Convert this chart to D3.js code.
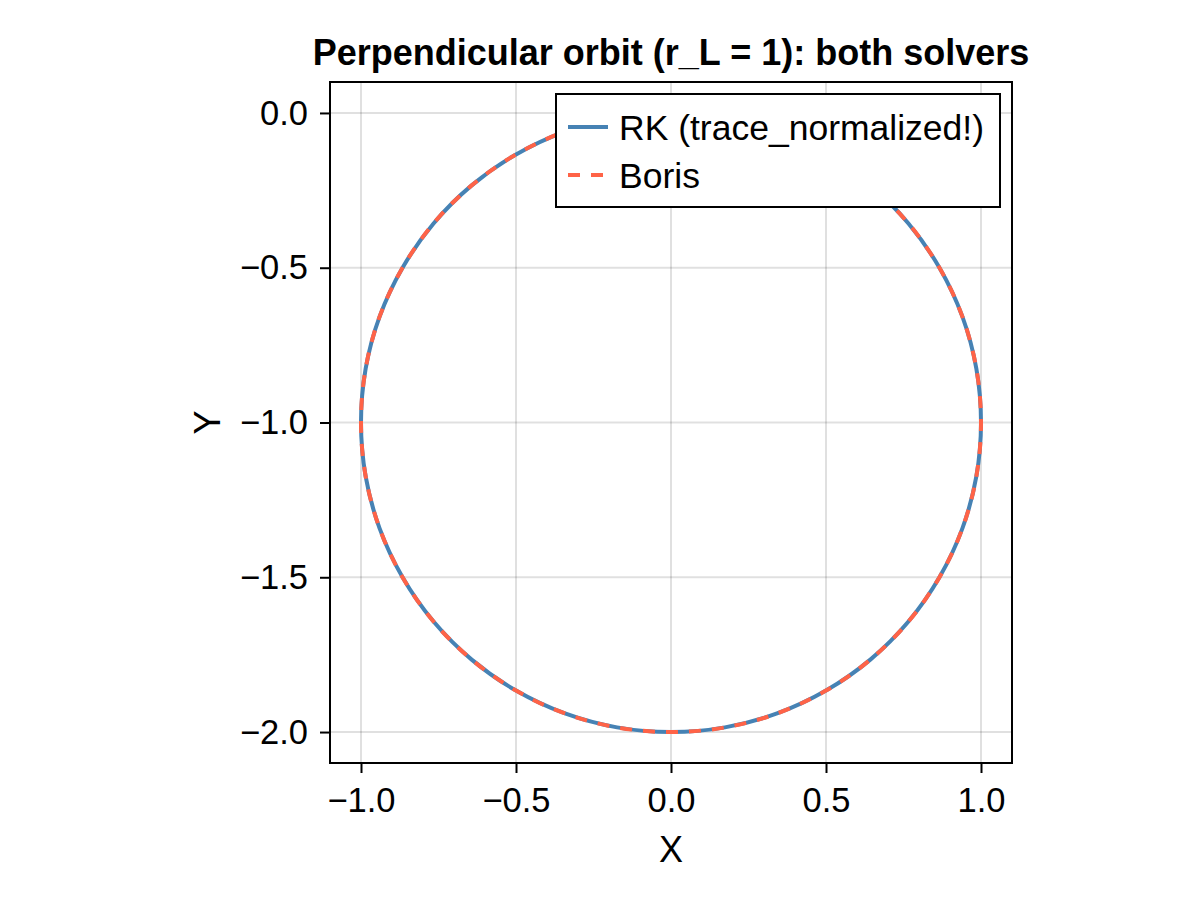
<!DOCTYPE html>
<html>
<head>
<meta charset="utf-8">
<script src="https://cdn.jsdelivr.net/npm/d3@7"></script>
<style>
  body { margin: 0; background: #fff; }
  svg { font-family: "Liberation Sans", Arial, sans-serif; }
</style>
</head>
<body>
<div id="chart"></div>
<script>
// orbit samples, every 10 degrees round the circle
const rkX = [0, 0.174, 0.342, 0.5, 0.643, 0.766, 0.866, 0.940, 0.985, 1, 0.985, 0.940, 0.866, 0.766, 0.643, 0.5, 0.342, 0.174,
  0, -0.174, -0.342, -0.5, -0.643, -0.766, -0.866, -0.940, -0.985, -1, -0.985, -0.940, -0.866, -0.766, -0.643, -0.5, -0.342, -0.174, 0];
const rkY = [0, -0.015, -0.060, -0.134, -0.234, -0.357, -0.5, -0.658, -0.826, -1, -1.174, -1.342, -1.5, -1.643, -1.766, -1.866, -1.940, -1.985,
  -2, -1.985, -1.940, -1.866, -1.766, -1.643, -1.5, -1.342, -1.174, -1, -0.826, -0.658, -0.5, -0.357, -0.234, -0.134, -0.060, -0.015, 0];
const borisX = [0, 0.174, 0.342, 0.5, 0.643, 0.766, 0.866, 0.940, 0.985, 1, 0.985, 0.940, 0.866, 0.766, 0.643, 0.5, 0.342, 0.174,
  0, -0.174, -0.342, -0.5, -0.643, -0.766, -0.866, -0.940, -0.985, -1, -0.985, -0.940, -0.866, -0.766, -0.643, -0.5, -0.342, -0.174, 0];
const borisY = [0, -0.015, -0.060, -0.134, -0.234, -0.357, -0.5, -0.658, -0.826, -1, -1.174, -1.342, -1.5, -1.643, -1.766, -1.866, -1.940, -1.985,
  -2, -1.985, -1.940, -1.866, -1.766, -1.643, -1.5, -1.342, -1.174, -1, -0.826, -0.658, -0.5, -0.357, -0.234, -0.134, -0.060, -0.015, 0];

const xTicks = [-1.0, -0.5, 0.0, 0.5, 1.0];
const yTicks = [0.0, -0.5, -1.0, -1.5, -2.0];
const seriesNames = ["RK (trace_normalized!)", "Boris"];
const seriesColors = ["#4682b4", "#ff6347"];

const width = 1200, height = 900;
const plot = {left: 330, right: 1012, top: 82, bottom: 763};

const svg = d3.select("#chart").append("svg")
  .attr("width", width)
  .attr("height", height);

const x = d3.scaleLinear().domain([-1.1, 1.1]).range([plot.left, plot.right]);
const y = d3.scaleLinear().domain([-2.1, 0.1]).range([plot.bottom, plot.top]);

const fmt = v => d3.format(".1f")(v).replace("-", "\u2212");

// grid
svg.append("g")
  .selectAll("line")
  .data(xTicks)
  .join("line")
  .attr("x1", d => x(d)).attr("x2", d => x(d))
  .attr("y1", plot.top).attr("y2", plot.bottom)
  .attr("stroke", "#000").attr("stroke-opacity", 0.12).attr("stroke-width", 2);

svg.append("g")
  .selectAll("line")
  .data(yTicks)
  .join("line")
  .attr("y1", d => y(d)).attr("y2", d => y(d))
  .attr("x1", plot.left).attr("x2", plot.right)
  .attr("stroke", "#000").attr("stroke-opacity", 0.12).attr("stroke-width", 2);

// axes
const xAxis = svg.append("g")
  .attr("transform", `translate(0,${plot.bottom + 1})`)
  .call(d3.axisBottom(x).tickValues(xTicks).tickFormat(fmt).tickSize(9).tickSizeOuter(0).tickPadding(15));
const yAxis = svg.append("g")
  .attr("transform", `translate(${plot.left - 1},0)`)
  .call(d3.axisLeft(y).tickValues(yTicks).tickFormat(fmt).tickSize(9).tickSizeOuter(0).tickPadding(12));

[xAxis, yAxis].forEach(a => {
  a.select(".domain").remove();
  a.selectAll(".tick line").attr("stroke", "#000").attr("stroke-width", 2);
  a.selectAll(".tick text")
    .attr("fill", "#000")
    .style("font-family", "Liberation Sans, Arial, sans-serif")
    .style("font-size", "34.5px");
});

// series
const line = d3.line()
  .x(d => x(d[0]))
  .y(d => y(d[1]))
  .curve(d3.curveCatmullRom);

const rk = rkX.map((v, i) => [v, rkY[i]]);
const boris = borisX.map((v, i) => [v, borisY[i]]);

svg.append("path")
  .datum(rk)
  .attr("d", line)
  .attr("fill", "none")
  .attr("stroke", seriesColors[0])
  .attr("stroke-width", 4);

svg.append("path")
  .datum(boris)
  .attr("d", line)
  .attr("fill", "none")
  .attr("stroke", seriesColors[1])
  .attr("stroke-width", 4)
  .attr("stroke-dasharray", "12,11");

// frame
svg.append("rect")
  .attr("x", plot.left).attr("y", plot.top)
  .attr("width", plot.right - plot.left).attr("height", plot.bottom - plot.top)
  .attr("fill", "none").attr("stroke", "#000").attr("stroke-width", 2);

// title and labels
svg.append("text")
  .attr("x", (plot.left + plot.right) / 2).attr("y", 65)
  .attr("text-anchor", "middle")
  .attr("font-weight", "bold")
  .attr("font-size", 36)
  .text("Perpendicular orbit (r_L = 1): both solvers");

svg.append("text")
  .attr("x", (plot.left + plot.right) / 2).attr("y", 862)
  .attr("text-anchor", "middle")
  .attr("font-size", 36)
  .text("X");

svg.append("text")
  .attr("transform", `translate(220,${(plot.top + plot.bottom) / 2}) rotate(-90)`)
  .attr("text-anchor", "middle")
  .attr("font-size", 36)
  .text("Y");

// legend
const legend = svg.append("g").attr("transform", "translate(556,94)");
legend.append("rect")
  .attr("width", 444).attr("height", 113)
  .attr("fill", "#fff").attr("stroke", "#000").attr("stroke-width", 2);

const item = legend.selectAll("g.item")
  .data(seriesNames)
  .join("g")
  .attr("class", "item")
  .attr("transform", (d, i) => `translate(0,${33 + i * 48})`);

item.append("line")
  .attr("x1", 12).attr("x2", 52)
  .attr("stroke", (d, i) => seriesColors[i])
  .attr("stroke-width", 4)
  .attr("stroke-dasharray", (d, i) => i === 1 ? "12,11" : null);

item.append("text")
  .attr("x", 63)
  .attr("dy", "0.36em")
  .attr("font-size", 35.5)
  .text(d => d);
</script>
</body>
</html>
